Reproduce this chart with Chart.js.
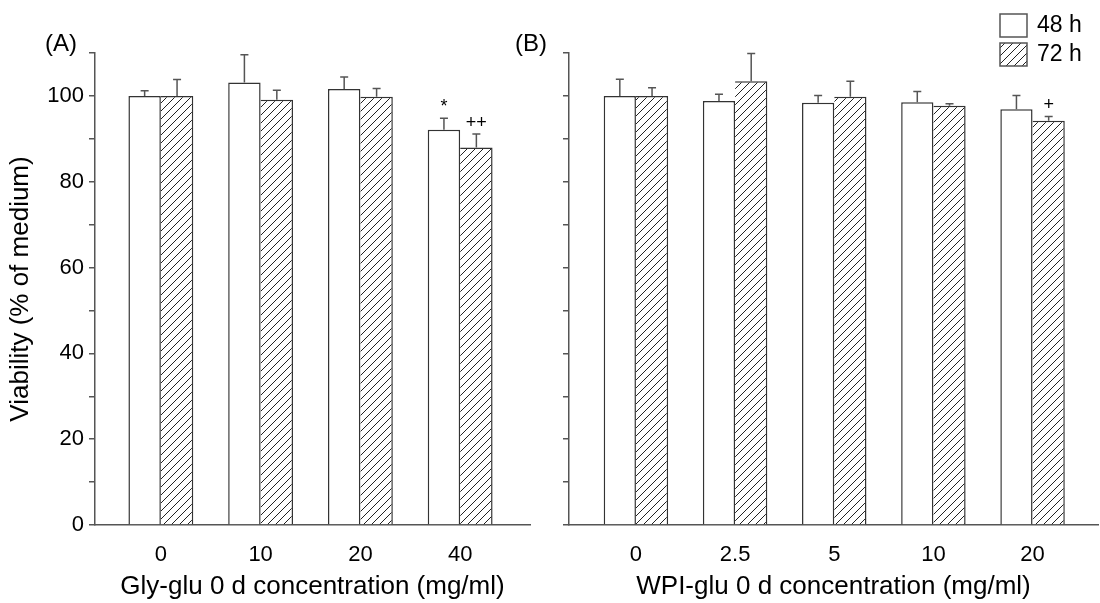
<!DOCTYPE html>
<html lang="en">
<head>
<meta charset="UTF-8">
<title>Viability</title>
<script src="https://cdn.jsdelivr.net/npm/chart.js"></script>
<style>
  body { margin: 0; background: #fff; }
  #wrap { position: relative; width: 1100px; height: 603px; }
  canvas { position: absolute; top: 0; }
  #chartA { left: 0; }
  #chartB { left: 480px; }
</style>
</head>
<body>
<div id="wrap">
  <canvas id="chartA" width="545" height="603"></canvas>
  <canvas id="chartB" width="620" height="603"></canvas>
</div>
<script>
const seriesNames = ['48 h', '72 h'];
const yTicks = [0, 20, 40, 60, 80, 100];

// (A) Gly-glu
const glyLabels = ['0', '10', '20', '40'];
const gly48 = [100, 103.1, 101.6, 92.1];
const gly48Err = [1.2, 6.5, 2.8, 2.7];
const gly72 = [100, 99.1, 99.8, 88.0];
const gly72Err = [3.8, 2.2, 1.9, 3.1];
const gly48Sig = ['', '', '', '*'];
const gly72Sig = ['', '', '', '++'];

// (B) WPI-glu
const wpiLabels = ['0', '2.5', '5', '10', '20'];
const wpi48 = [100, 98.8, 98.4, 98.5, 96.9];
const wpi48Err = [3.9, 1.6, 1.7, 2.5, 3.2];
const wpi72 = [100, 103.4, 99.8, 97.7, 94.2];
const wpi72Err = [1.9, 6.5, 3.6, 0.5, 1.0];
const wpi48Sig = ['', '', '', '', ''];
const wpi72Sig = ['', '', '', '', '+'];

Chart.defaults.font.family = '"Liberation Sans", Arial, sans-serif';
Chart.defaults.color = '#000';

const axisColor = '#555';
const barLine = '#333';

function makeHatch() {
  const c = document.createElement('canvas');
  c.width = 8; c.height = 8;
  const g = c.getContext('2d');
  g.fillStyle = '#fff';
  g.fillRect(0, 0, 8, 8);
  g.strokeStyle = '#222';
  g.lineWidth = 1;
  g.beginPath();
  g.moveTo(0, 8); g.lineTo(8, 0);
  g.moveTo(-1, 1); g.lineTo(1, -1);
  g.moveTo(7, 9); g.lineTo(9, 7);
  g.stroke();
  return g.createPattern(c, 'repeat');
}
const hatch = makeHatch();

const errorBars = {
  id: 'errorBars',
  afterDatasetsDraw(chart) {
    const ctx = chart.ctx, ys = chart.scales.y;
    chart.data.datasets.forEach((ds, di) => {
      const meta = chart.getDatasetMeta(di);
      meta.data.forEach((bar, i) => {
        const top = ys.getPixelForValue(ds.data[i].y + ds.errors[i]);
        ctx.save();
        ctx.strokeStyle = axisColor;
        ctx.lineWidth = 1.5;
        ctx.beginPath();
        ctx.moveTo(bar.x, bar.y);
        ctx.lineTo(bar.x, top);
        ctx.moveTo(bar.x - 4, top);
        ctx.lineTo(bar.x + 4, top);
        ctx.stroke();
        if (ds.marks[i]) {
          ctx.fillStyle = '#000';
          ctx.font = '18px "Liberation Sans", Arial, sans-serif';
          ctx.textAlign = 'center';
          ctx.textBaseline = 'bottom';
          ctx.fillText(ds.marks[i], bar.x, top - 2);
        }
        ctx.restore();
      });
    });
  }
};

const panelText = {
  id: 'panelText',
  afterDraw(chart, args, opts) {
    const ctx = chart.ctx;
    ctx.save();
    ctx.fillStyle = '#000';
    ctx.font = '24px "Liberation Sans", Arial, sans-serif';
    ctx.textAlign = 'center';
    ctx.textBaseline = 'middle';
    ctx.fillText(opts.label, opts.x, 44);
    if (opts.legend) {
      const lx = opts.legendX;
      ctx.lineWidth = 1.5;
      ctx.strokeStyle = axisColor;
      ctx.fillStyle = '#fff';
      ctx.fillRect(lx, 14, 27, 23);
      ctx.strokeRect(lx, 14, 27, 23);
      ctx.fillStyle = hatch;
      ctx.fillRect(lx, 43, 27, 23);
      ctx.strokeRect(lx, 43, 27, 23);
      ctx.fillStyle = '#000';
      ctx.font = '23px "Liberation Sans", Arial, sans-serif';
      ctx.textAlign = 'left';
      ctx.fillText(seriesNames[0], lx + 37, 26);
      ctx.fillText(seriesNames[1], lx + 37, 55);
    }
    ctx.restore();
  }
};

function makeChart(id, labels, v48, e48, s48, v72, e72, s72, cfg) {
  return new Chart(document.getElementById(id), {
    type: 'bar',
    data: {
      datasets: [{
        label: seriesNames[0],
        data: v48.map((v, i) => ({ x: i, y: v })),
        errors: e48, marks: s48,
        backgroundColor: '#fff',
        borderColor: barLine,
        borderWidth: 1.5
      }, {
        label: seriesNames[1],
        data: v72.map((v, i) => ({ x: i, y: v })),
        errors: e72, marks: s72,
        backgroundColor: hatch,
        borderColor: barLine,
        borderWidth: { top: 1.5, right: 1.5, left: 0, bottom: 0 }
      }]
    },
    options: {
      responsive: false,
      animation: false,
      categoryPercentage: 0.65,
      barPercentage: 1,
      layout: { padding: { top: 53, right: cfg.padRight, left: 0, bottom: 0 } },
      plugins: {
        legend: { display: false },
        tooltip: { enabled: false },
        panelText: { label: cfg.panel, x: cfg.panelX, legend: cfg.legend, legendX: cfg.legendX }
      },
      scales: {
        x: {
          type: 'linear',
          min: cfg.xMin, max: cfg.xMax,
          offset: false,
          afterBuildTicks: s => { s.ticks = labels.map((_, i) => ({ value: i })); },
          ticks: { callback: v => labels[v], font: { size: 22 }, padding: 17, autoSkip: false, maxRotation: 0 },
          grid: { display: false, drawTicks: false },
          border: { display: true, color: axisColor, width: 1.5 },
          title: { display: true, text: cfg.xTitle, font: { size: 26 }, padding: { top: 0, bottom: 1 } },
          afterFit: s => { s.height = 78; }
        },
        y: {
          min: 0, max: 110,
          ticks: {
            stepSize: 10, autoSkip: false, padding: 5, font: { size: 22 },
            callback: v => (cfg.yLabels && yTicks.includes(v)) ? String(v) : ''
          },
          grid: { drawOnChartArea: false, drawTicks: true, tickLength: 6, color: axisColor, tickColor: axisColor, lineWidth: 1.5 },
          border: { color: axisColor, width: 1.5 },
          title: { display: !!cfg.yTitle, text: cfg.yTitle || '', font: { size: 26 }, padding: { top: 5 } },
          afterFit: s => { s.width = cfg.yWidth; }
        }
      }
    },
    plugins: [errorBars, panelText]
  });
}

makeChart('chartA', glyLabels, gly48, gly48Err, gly48Sig, gly72, gly72Err, gly72Sig, {
  xMin: -0.66, xMax: 3.7, padRight: 15, yWidth: 95, yLabels: true,
  yTitle: 'Viability (% of medium)', xTitle: 'Gly-glu 0 d concentration (mg/ml)',
  panel: '(A)', panelX: 61, legend: false
});

makeChart('chartB', wpiLabels, wpi48, wpi48Err, wpi48Sig, wpi72, wpi72Err, wpi72Sig, {
  xMin: -0.675, xMax: 4.66, padRight: 2, yWidth: 89, yLabels: false,
  yTitle: '', xTitle: 'WPI-glu 0 d concentration (mg/ml)',
  panel: '(B)', panelX: 51, legend: true, legendX: 520
});
</script>
</body>
</html>
